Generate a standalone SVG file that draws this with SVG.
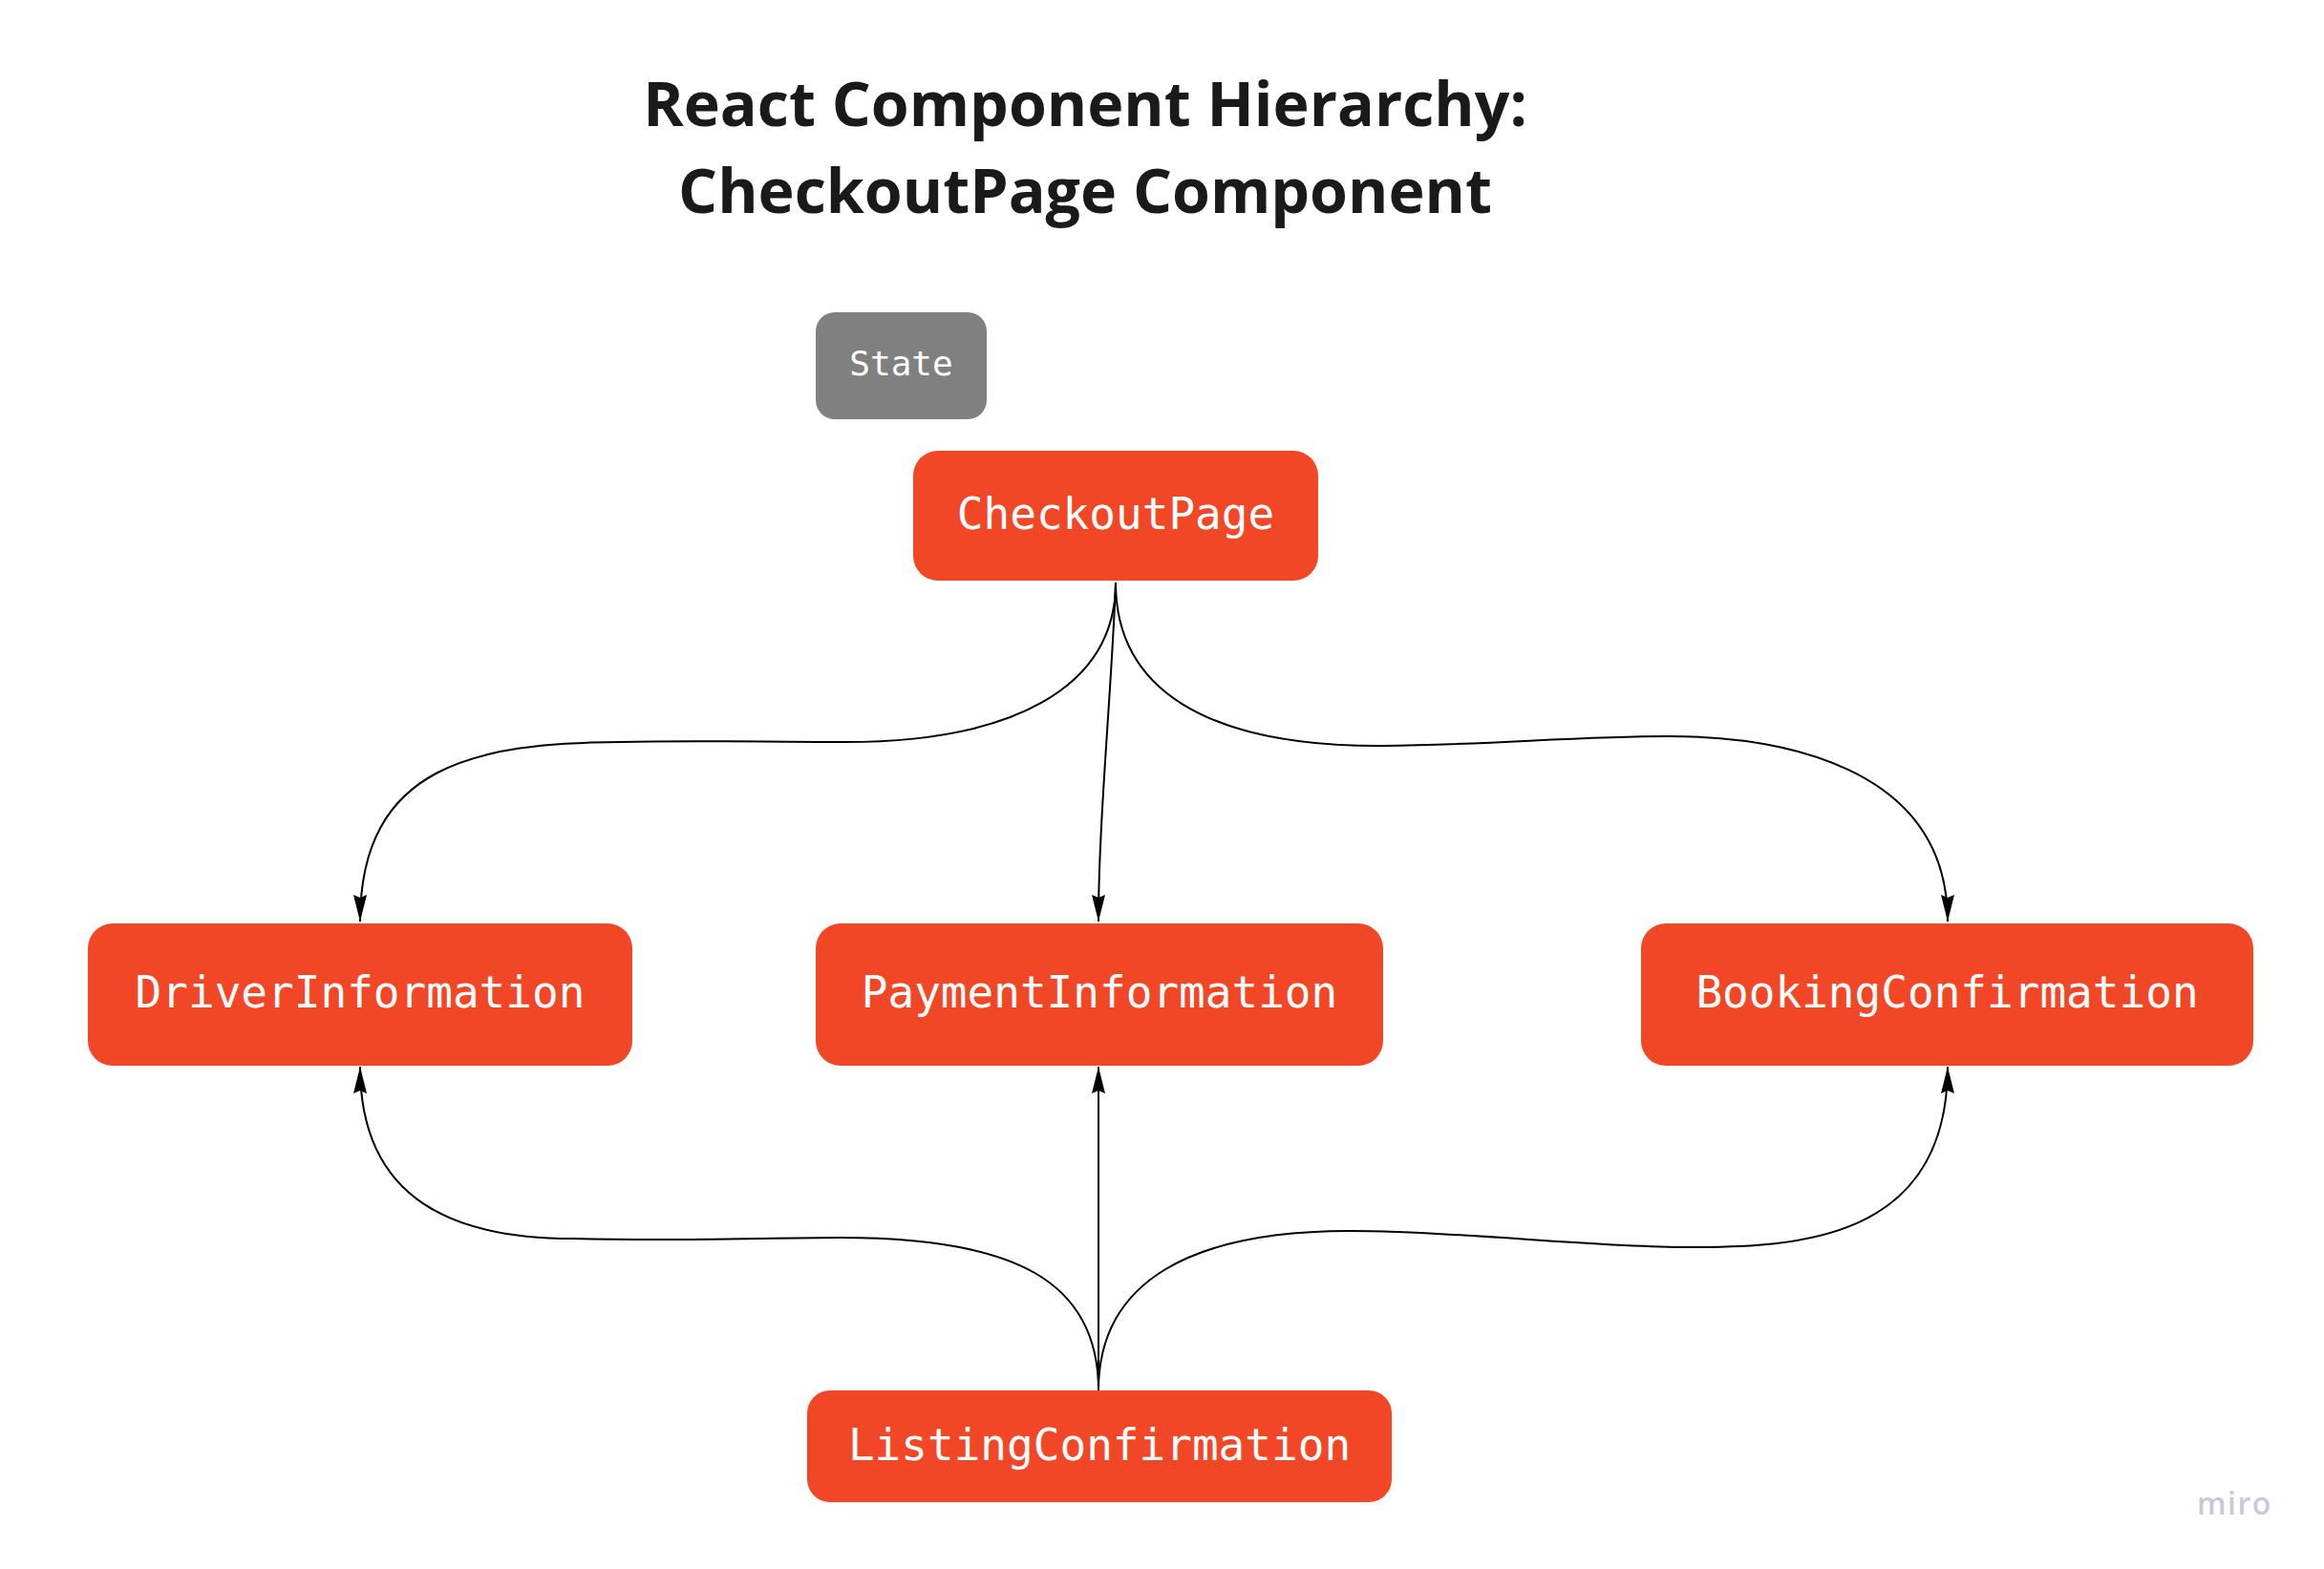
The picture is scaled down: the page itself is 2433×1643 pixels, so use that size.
<svg xmlns="http://www.w3.org/2000/svg" width="2433" height="1643" viewBox="0 0 2433 1643">
  <style>
    .title { font-family: "Open Sans", "Liberation Sans", sans-serif; font-weight: 700; font-size: 64.5px; fill: #1a1a1a; text-anchor: middle; }
    .node { fill: #F24726; }
    .state { fill: #808080; }
    .label { font-family: "DejaVu Sans Mono", "Liberation Mono", monospace; font-size: 46px; fill: #ffffff; text-anchor: middle; }
    .slabel { font-family: "DejaVu Sans Mono", "Liberation Mono", monospace; font-size: 36px; fill: #ffffff; text-anchor: middle; }
    .edge { fill: none; stroke: #000000; stroke-width: 2; marker-end: url(#arrow); }
    .logo { font-family: "Open Sans", "Liberation Sans", sans-serif; font-weight: 600; font-size: 32px; fill: #c8c8d8; letter-spacing: 1.5px; }
  </style>
  <defs>
    <marker id="arrow" markerUnits="userSpaceOnUse" viewBox="0 0 28 14" refX="28" refY="7" markerWidth="28" markerHeight="14" orient="auto">
      <path d="M0,0 L28,7 L0,14 L3,7 Z" fill="#000000"/>
    </marker>
  </defs>
  <rect width="2433" height="1643" fill="#ffffff"/>

  <g id="title">
    <text class="title" x="1136" y="132">React Component Hierarchy:</text>
    <text class="title" x="1136" y="223">CheckoutPage Component</text>
  </g>

  <g id="connectors">
    <path class="edge" d="M1168,610 C1168,720 1060,778 880,777 C800,777 720,775 650,777 C500,778 377,800 377,965"/>
    <path class="edge" d="M1168,610 C1164,720 1150,860 1150,965"/>
    <path class="edge" d="M1168,610 C1168,720 1260,782 1448,781 C1560,780 1650,771 1746,771 C1860,771 2039,800 2039,965"/>
    <path class="edge" d="M1150,1456 C1150,1340 1060,1296 880,1296 C800,1296 720,1300 600,1297 C480,1297 377,1260 377,1117"/>
    <path class="edge" d="M1150,1456 L1150,1117"/>
    <path class="edge" d="M1150,1456 C1150,1340 1250,1289 1413,1289 C1530,1289 1660,1306 1769,1306 C1880,1306 2039,1300 2039,1117"/>
  </g>

  <g id="state">
    <rect class="state" x="854" y="327" width="179" height="112" rx="20"/>
    <text class="slabel" x="943.5" y="393">State</text>
  </g>
  <g id="checkoutpage">
    <rect class="node" x="956" y="472" width="424" height="136" rx="26"/>
    <text class="label" x="1168" y="554">CheckoutPage</text>
  </g>
  <g id="driverinformation">
    <rect class="node" x="92" y="967" width="570" height="149" rx="26"/>
    <text class="label" x="377" y="1055">DriverInformation</text>
  </g>
  <g id="paymentinformation">
    <rect class="node" x="854" y="967" width="594" height="149" rx="26"/>
    <text class="label" x="1151" y="1055">PaymentInformation</text>
  </g>
  <g id="bookingconfirmation">
    <rect class="node" x="1718" y="967" width="641" height="149" rx="26"/>
    <text class="label" x="2038.5" y="1055">BookingConfirmation</text>
  </g>
  <g id="listingconfirmation">
    <rect class="node" x="845" y="1456" width="612" height="117" rx="24"/>
    <text class="label" x="1151" y="1529">ListingConfirmation</text>
  </g>

  <g id="logo">
    <text class="logo" x="2300" y="1586">miro</text>
  </g>
</svg>
